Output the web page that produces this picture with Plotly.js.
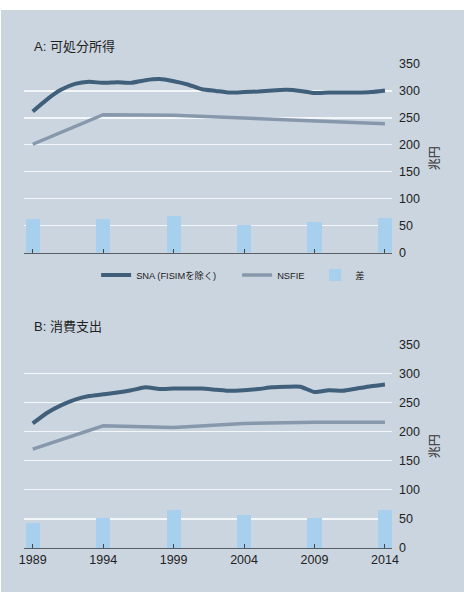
<!DOCTYPE html>
<html>
<head>
<meta charset="utf-8">
<script src="https://cdn.plot.ly/plotly-3.0.1.min.js"></script>
<style>
  html, body { margin: 0; padding: 0; background: #ffffff; }
  #chart { position: absolute; left: 1px; top: 10px; width: 463px; height: 582px; }
</style>
</head>
<body>
<div id="chart"></div>
<script>
// Years of the annual SNA series
const years = [1989, 1990, 1991, 1992, 1993, 1994, 1995, 1996, 1997, 1998, 1999, 2000, 2001,
               2002, 2003, 2004, 2005, 2006, 2007, 2008, 2009, 2010, 2011, 2012, 2013, 2014];
// Survey years of the NSFIE (全国消費実態調査)
const surveyYears = [1989, 1994, 1999, 2004, 2009, 2014];
const tickLabels = ['1989', '1994', '1999', '2004', '2009', '2014'];

// A: 可処分所得 (兆円)
const snaIncome = [262, 284, 302, 313, 317, 315, 316, 315, 320, 322, 318, 312, 303,
                   300, 297, 298, 299, 301, 302, 300, 296, 297, 297, 297, 298, 301];
const nsfieIncome = [201, 256, 255, 250, 244, 239];
const gapIncome = [62, 63, 67, 51, 56, 64];

// B: 消費支出 (兆円)
const snaSpending = [214, 232, 245, 255, 261, 264, 267, 271, 276, 273, 274, 274, 274,
                     272, 270, 271, 273, 276, 277, 277, 268, 271, 270, 274, 278, 281];
const nsfieSpending = [170, 210, 207, 214, 216, 216];
const gapSpending = [43, 51, 66, 57, 52, 65];

const seriesNames = ['SNA (FISIMを除く)', 'NSFIE', '差'];
const panelTitles = ['A: 可処分所得', 'B: 消費支出'];
const unitLabel = '兆円';

const C_SNA = '#3f5f7b';
const C_NSFIE = '#8798ad';
const C_GAP = '#a7cfee';
const C_BG = '#cbd5df';
const FONT = 'Liberation Sans, Arial, Noto Sans CJK JP, sans-serif';

function panelTraces(xa, ya, sna, nsfie, gap, showLegend) {
  return [
    { type: 'bar', x: surveyYears, y: gap, name: seriesNames[2], xaxis: xa, yaxis: ya,
      width: 1.0, marker: { color: C_GAP }, showlegend: showLegend, legendrank: 3,
      legendwidth: 20, hoverinfo: 'x+y' },
    { type: 'scatter', mode: 'lines', x: years, y: sna, name: seriesNames[0], xaxis: xa, yaxis: ya,
      line: { color: C_SNA, width: 4, shape: 'spline', smoothing: 0.5 },
      showlegend: showLegend, legendrank: 1, legendwidth: 96 },
    { type: 'scatter', mode: 'lines', x: surveyYears, y: nsfie, name: seriesNames[1], xaxis: xa, yaxis: ya,
      line: { color: C_NSFIE, width: 3.5 },
      showlegend: showLegend, legendrank: 2, legendwidth: 33 }
  ];
}

const data = [].concat(
  panelTraces('x', 'y', snaIncome, nsfieIncome, gapIncome, true),
  panelTraces('x2', 'y2', snaSpending, nsfieSpending, gapSpending, false)
);

function xAxis(showLabels, anchor) {
  return {
    domain: [0, 1], anchor: anchor, range: [1988.38, 2014.5],
    tickvals: surveyYears, ticktext: tickLabels, showticklabels: showLabels,
    ticks: 'inside', ticklen: 4, tickwidth: 1, tickcolor: '#444',
    showline: true, linecolor: '#5a5f66', linewidth: 1.2,
    showgrid: false, zeroline: false, fixedrange: true,
    tickfont: { size: 12.5, color: '#222' }
  };
}
function yAxis(domain, anchor) {
  return {
    domain: domain, anchor: anchor, side: 'right', range: [0, 350],
    tickvals: [0, 50, 100, 150, 200, 250, 300, 350],
    showgrid: true, gridcolor: '#f4f7fa', gridwidth: 1.3,
    zeroline: false, showline: false, ticks: '', ticklabelstandoff: 6,
    tickfont: { size: 12.5, color: '#222' }, fixedrange: true,
    title: { text: unitLabel, font: { size: 12, color: '#333' }, standoff: 11 }
  };
}

const layout = {
  width: 463, height: 582,
  margin: { l: 23, r: 72, t: 54, b: 44 },
  paper_bgcolor: C_BG, plot_bgcolor: C_BG,
  font: { family: FONT, color: '#222' },
  bargap: 0,
  xaxis: xAxis(false, 'y'),
  yaxis: yAxis([0.6105, 1], 'x'),
  xaxis2: xAxis(true, 'y2'),
  yaxis2: yAxis([0, 0.4209], 'x2'),
  showlegend: true,
  legend: {
    orientation: 'h', x: 0.196, xanchor: 'left', y: 0.564, yanchor: 'middle',
    bgcolor: 'rgba(0,0,0,0)', font: { size: 9.3, color: '#222' },
    traceorder: 'normal'
  },
  annotations: [
    { text: panelTitles[0], xref: 'paper', yref: 'paper', x: 0.022, y: 1.0, yshift: 18,
      xanchor: 'left', yanchor: 'middle', showarrow: false, font: { size: 13, color: '#222' } },
    { text: panelTitles[1], xref: 'paper', yref: 'paper', x: 0.022, y: 0.4209, yshift: 18,
      xanchor: 'left', yanchor: 'middle', showarrow: false, font: { size: 13, color: '#222' } }
  ]
};

Plotly.newPlot('chart', data, layout, { displayModeBar: false, staticPlot: true });
</script>
</body>
</html>
